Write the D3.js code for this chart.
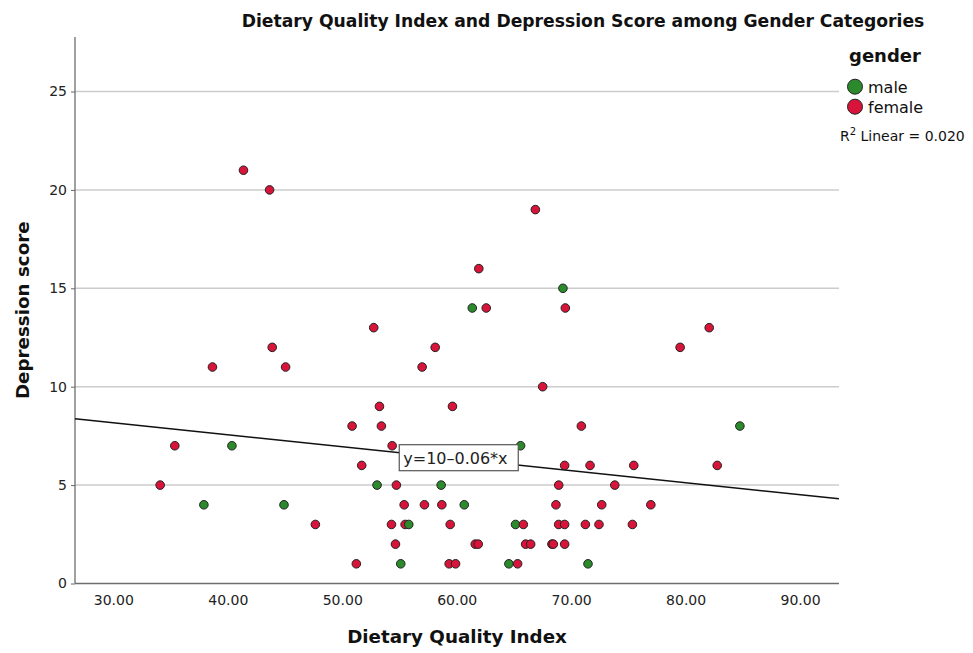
<!DOCTYPE html>
<html>
<head>
<meta charset="utf-8">
<script src="https://cdn.jsdelivr.net/npm/d3@7"></script>
<style>
  body { margin: 0; background: #fff; }
  text { font-family: "DejaVu Sans", sans-serif; }
</style>
</head>
<body>
<div id="chart"></div>
<script>
// values
var maleDQI = [37.91, 40.36, 44.91, 53.04, 55.11, 55.81, 58.64, 60.66, 61.36, 64.56, 65.14, 65.58, 69.28, 71.47, 84.74];
var maleDep = [4, 7, 4, 5, 1, 3, 5, 4, 14, 1, 3, 7, 15, 1, 8];

var femaleDQI = [34.09, 35.37, 38.66, 41.37, 43.65, 43.88, 45.05, 47.65, 50.86, 51.23, 51.70, 52.75,
  53.25, 53.42, 54.30, 54.36, 54.65, 54.73, 55.41, 55.49, 56.98, 57.18, 58.12, 58.70, 59.34, 59.43,
  59.63, 59.90, 61.62, 61.88, 61.93, 62.58, 65.32, 65.82, 66.02, 66.46, 66.87, 67.51, 68.32, 68.44,
  68.67, 68.91, 68.91, 69.43, 69.43, 69.43, 69.49, 70.89, 71.24, 71.65, 72.43, 72.67, 73.81, 75.35,
  75.47, 76.96, 79.52, 82.06, 82.76];
var femaleDep = [5, 7, 11, 21, 20, 12, 11, 3, 8, 1, 6, 13,
  9, 8, 3, 7, 2, 5, 4, 3, 11, 4, 12, 4, 1, 3,
  9, 1, 2, 2, 16, 14, 1, 3, 2, 2, 19, 10, 2, 2,
  4, 5, 3, 3, 2, 6, 14, 8, 3, 6, 3, 4, 5, 3,
  6, 4, 12, 13, 6];

var genders = ["male", "female"];
var genderColors = ["#2b8a2b", "#d8143a"];
var xTicks = [30, 40, 50, 60, 70, 80, 90];
var yTicks = [0, 5, 10, 15, 20, 25];
var fitIntercept = 10.0, fitSlope = -0.061;
var fitLabel = "y=10\u20130.06*x";
var rSquared = "0.020";

var width = 973, height = 653;
var margin = { top: 37, right: 134, bottom: 69.5, left: 75 };

var svg = d3.select("#chart")
            .append("svg")
            .attr("width", width)
            .attr("height", height);

var x = d3.scaleLinear().domain([26.65, 93.4]).range([margin.left, width - margin.right]);
var y = d3.scaleLinear().domain([0, 27.77]).range([height - margin.bottom, margin.top]);

// grid lines
svg.append("g")
   .selectAll("line")
   .data(yTicks.filter(function(d){ return d > 0; }))
   .enter().append("line")
   .attr("x1", x.range()[0])
   .attr("x2", x.range()[1])
   .attr("y1", function(d){ return y(d); })
   .attr("y2", function(d){ return y(d); })
   .style("stroke", "#cccccc")
   .style("stroke-width", 1.5);

var xAxis = svg.append("g")
   .attr("transform", "translate(0," + y(0) + ")")
   .call(d3.axisBottom(x).tickValues(xTicks).tickFormat(d3.format(".2f")).tickSize(0).tickPadding(12));

var yAxis = svg.append("g")
   .attr("transform", "translate(" + x.range()[0] + ",0)")
   .call(d3.axisLeft(y).tickValues(yTicks).tickSize(4).tickPadding(4));

[xAxis, yAxis].forEach(function(g){
  g.select(".domain").attr("d", null);
  g.selectAll("text").style("font-size", "14px").style("font-family", "DejaVu Sans").attr("fill", "#222");
  g.selectAll(".tick line").attr("stroke", "#666");
});
// axis lines drawn across full plot
svg.append("line").attr("x1", x.range()[0]).attr("x2", x.range()[0])
   .attr("y1", y.range()[1]).attr("y2", y.range()[0]).style("stroke", "#6e6e6e").style("stroke-width", 1.3);
svg.append("line").attr("x1", x.range()[0]).attr("x2", x.range()[1])
   .attr("y1", y.range()[0]).attr("y2", y.range()[0]).style("stroke", "#6e6e6e").style("stroke-width", 1.3);

// fit line
var xd = x.domain();
svg.append("line")
   .attr("x1", x(xd[0])).attr("y1", y(fitIntercept + fitSlope * xd[0]))
   .attr("x2", x(xd[1])).attr("y2", y(fitIntercept + fitSlope * xd[1]))
   .style("stroke", "#111").style("stroke-width", 1.5);

// points
var points = [];
maleDQI.forEach(function(d, i){ points.push({ x: d, y: maleDep[i], g: 0 }); });
femaleDQI.forEach(function(d, i){ points.push({ x: d, y: femaleDep[i], g: 1 }); });
points.sort(function(a, b){ return a.x - b.x; });

svg.append("g")
   .selectAll("circle")
   .data(points)
   .enter().append("circle")
   .attr("cx", function(d){ return x(d.x); })
   .attr("cy", function(d){ return y(d.y); })
   .attr("r", 4.3)
   .style("fill", function(d){ return genderColors[d.g]; })
   .style("stroke", "#222")
   .style("stroke-width", 1);

// fit label box
var labelX = 54.98;
var lbl = svg.append("g")
   .attr("transform", "translate(" + x(labelX) + "," + (y(fitIntercept + fitSlope * labelX) - 8) + ")");
lbl.append("rect").attr("width", 119).attr("height", 26)
   .style("fill", "#fff").style("stroke", "#555").style("stroke-width", 1.2);
lbl.append("text").attr("x", 4).attr("y", 19).style("font-size", "16px").attr("fill", "#222").text(fitLabel);

// title
svg.append("text")
   .attr("x", 583).attr("y", 27)
   .attr("text-anchor", "middle")
   .style("font-size", "17.2px").style("font-weight", "bold")
   .attr("fill", "#111")
   .text("Dietary Quality Index and Depression Score among Gender Categories");

svg.append("text")
   .attr("x", (x.range()[0] + x.range()[1]) / 2).attr("y", 643)
   .attr("text-anchor", "middle")
   .style("font-size", "18.3px").style("font-weight", "bold")
   .attr("fill", "#111")
   .text("Dietary Quality Index");

svg.append("text")
   .attr("transform", "translate(29," + ((y.range()[0] + y.range()[1]) / 2) + ") rotate(-90)")
   .attr("text-anchor", "middle")
   .style("font-size", "18.3px").style("font-weight", "bold")
   .attr("fill", "#111")
   .text("Depression score");

// legend
var legend = svg.append("g");
legend.append("text").attr("x", 849).attr("y", 62)
   .style("font-size", "18px").style("font-weight", "bold").attr("fill", "#111").text("gender");
var items = legend.selectAll(".item").data(genders).enter().append("g")
   .attr("transform", function(d, i){ return "translate(855," + (86.7 + i * 20) + ")"; });
items.append("circle").attr("r", 7.5)
   .style("fill", function(d, i){ return genderColors[i]; })
   .style("stroke", "#222").style("stroke-width", 1);
items.append("text").attr("x", 13).attr("y", 6)
   .style("font-size", "16px").attr("fill", "#111").text(function(d){ return d; });

var r2 = legend.append("text").attr("x", 840).attr("y", 141)
   .style("font-size", "14px").attr("fill", "#111");
r2.append("tspan").text("R");
r2.append("tspan").attr("dy", -6).style("font-size", "10px").text("2");
r2.append("tspan").attr("dy", 6).text(" Linear = " + rSquared);
</script>
</body>
</html>
